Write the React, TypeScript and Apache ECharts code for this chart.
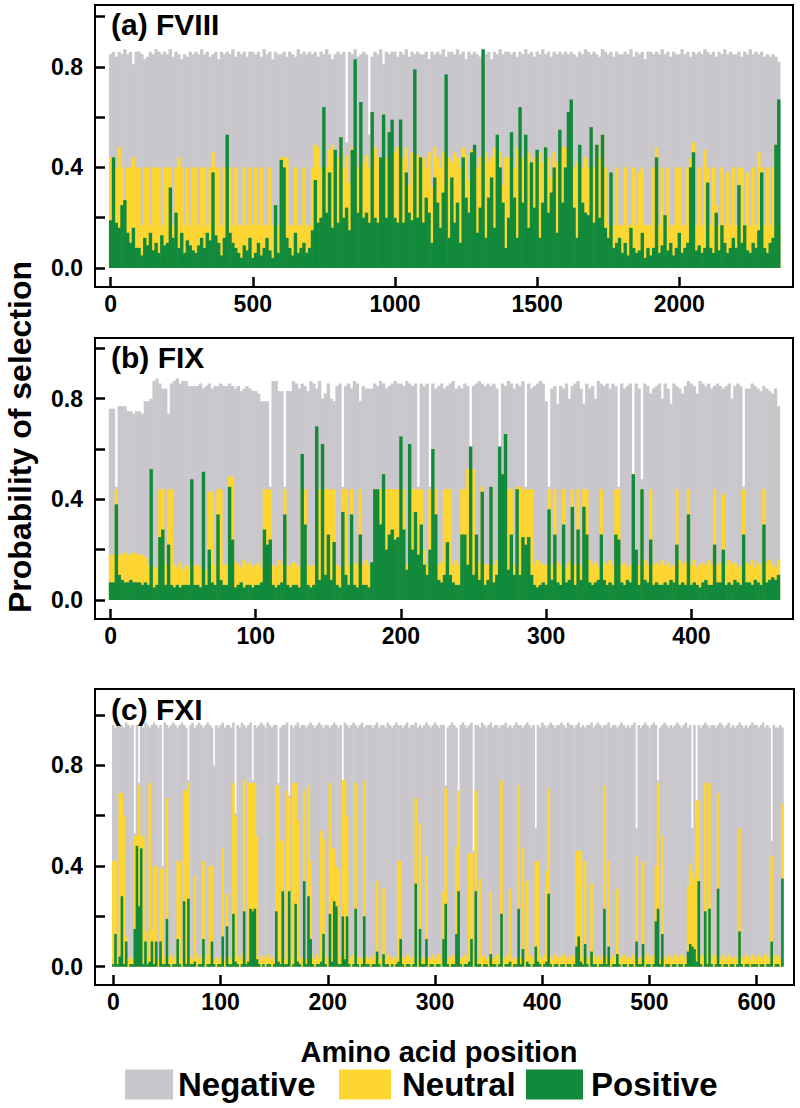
import React, { useEffect, useRef } from "react";
import * as echarts from "echarts";

// ---------- DATA (values in hundredths of probability) ----------
// FVIII: one bar per 10 residues (positions 0,10,...,2350)
const fviiiStep = 10;
const fviiiNeg = [
  85,86,84,86,85,87,85,86,81,86, 86,85,83,84,86,85,87,86,85,86,
  85,87,84,86,85,83,85,84,86,85, 86,85,87,85,86,84,85,86,83,86,
  85,86,85,87,84,86,85,86,84,86, 86,85,86,84,87,85,86,83,86,85,
  85,86,84,86,85,84,87,85,86,85, 86,85,86,84,86,85,87,85,83,85,
  86,85,86,50,86,85,87,84,85,86, 85,53,84,86,85,87,81,86,85,86,
  86,84,86,85,87,84,86,85,86,85, 85,86,83,86,85,86,85,87,84,86,
  86,85,87,85,86,83,86,85,86,85, 84,86,85,86,83,86,85,87,85,86,
  86,85,86,84,86,85,87,85,86,84, 86,85,87,85,86,84,86,85,86,85,
  86,85,86,85,84,86,85,87,86,85, 86,85,84,87,86,85,86,84,86,85,
  85,86,85,87,84,86,85,86,83,86, 86,85,86,85,87,85,86,84,86,85,
  85,87,85,86,84,86,85,86,85,87, 86,85,86,84,86,85,87,85,86,85,
  85,86,84,86,85,87,85,86,85,86, 84,85,84,85,84,82
];
const fviiiNeu = [
  44,40,40,48,40,17,40,40,44,40, 40,17,40,40,17,40,40,40,17,40,
  40,40,17,40,44,40,17,40,17,40, 40,17,40,40,17,40,46,40,40,17,
  40,17,40,17,40,17,17,40,17,40, 17,40,17,40,17,17,40,17,25,17,
  44,44,44,17,17,40,17,17,40,17, 17,40,49,48,40,44,40,47,49,40,
  44,48,40,45,34,48,46,40,44,42, 45,40,47,48,44,36,46,44,40,48,
  46,48,40,44,48,33,46,40,45,44, 44,40,46,32,48,44,40,46,42,44,
  42,46,44,40,48,45,35,47,44,40, 44,40,46,42,44,48,40,46,33,44,
  44,46,40,48,42,44,40,46,42,44, 44,46,42,48,44,36,46,42,44,48,
  48,46,44,40,42,46,40,44,40,42, 40,49,44,53,40,17,38,17,40,17,
  17,40,17,17,40,17,38,40,17,17, 17,40,48,17,40,17,40,17,17,40,
  40,17,17,40,44,50,17,40,17,47, 40,17,40,25,17,40,17,38,17,40,
  17,40,40,17,38,17,40,17,46,40, 17,40,17,40,49,17
];
const fviiiPos = [
  19,44,18,16,25,27,14,10,16,8, 8,5,12,9,14,7,10,6,13,9,
  10,32,12,22,8,14,6,11,9,7, 6,9,12,8,14,11,38,13,10,5,
  12,53,14,10,8,6,4,9,7,12, 4,6,10,5,8,12,7,4,25,6,
  43,40,12,8,5,14,6,8,10,6, 8,15,35,18,20,64,22,38,16,47,
  18,52,20,24,15,47,83,22,66,20, 22,18,62,20,18,44,61,20,54,59,
  20,18,59,18,38,22,19,79,20,44, 18,28,22,10,36,26,16,30,77,12,
  36,18,26,10,44,28,22,46,49,14, 24,87,12,28,36,16,53,40,26,8,
  20,54,28,12,64,26,53,16,42,24, 47,12,26,48,22,30,40,14,55,26,
  40,62,67,24,12,49,26,22,21,56, 18,49,20,53,16,12,38,8,10,12,
  6,10,5,16,8,6,7,14,4,8, 5,8,44,6,9,21,7,10,5,8,
  14,6,8,10,40,46,7,9,6,8, 34,8,6,22,7,17,10,6,8,12,
  8,33,10,17,7,6,10,8,15,38, 8,6,10,12,49,67
];

// FIX: one bar per 2 residues (positions 0,2,...,460)
const fixStep = 2;
const fixNeg = [
  76,76,45,77,77,77,75,75,74,75, 75,74,79,79,80,87,88,86,84,84,
  74,86,87,88,86,87,87,85,85,85, 85,86,84,85,86,84,85,85,86,85,
  85,86,85,84,85,83,84,85,84,83, 83,82,79,79,79,45,87,87,83,83,
  45,83,83,87,86,84,86,85,83,87, 86,84,87,80,82,86,80,79,85,86,
  45,85,86,84,87,86,79,85,84,84, 84,86,85,87,86,84,85,86,87,86,
  86,85,87,86,85,86,45,86,85,86, 45,86,84,85,86,84,85,86,87,84,
  85,84,86,85,46,85,86,87,86,85, 86,85,86,84,50,86,85,87,86,84,
  86,85,87,45,86,84,85,86,87,86, 79,45,84,85,78,85,84,86,80,85,
  86,87,84,78,86,84,85,80,87,86, 85,86,84,86,85,45,86,84,85,86,
  45,86,84,48,86,85,82,84,85,86, 80,86,84,78,86,85,84,82,85,87,
  86,85,82,87,86,85,86,84,85,86, 85,84,85,86,80,85,86,85,45,84,
  84,86,85,84,83,85,84,83,82,84, 77
];
const fixNeu = [
  18,18,44,18,18,19,18,18,19,18, 18,18,17,14,14,13,13,44,44,14,
  44,44,14,13,15,12,14,13,16,14, 14,13,15,12,43,43,14,44,44,14,
  14,49,49,15,14,13,16,14,15,13, 14,15,13,44,44,44,14,13,16,14,
  44,14,13,15,14,13,44,44,14,13, 14,15,44,44,44,44,44,44,14,13,
  44,44,14,44,15,14,44,14,16,14, 14,44,44,44,50,44,44,44,44,44,
  44,44,14,44,44,44,44,44,20,14, 44,44,44,14,15,44,44,44,14,16,
  14,44,44,52,52,52,14,15,45,14, 14,45,14,16,46,46,46,44,44,14,
  45,45,44,44,44,44,14,16,15,14, 14,44,14,44,15,14,44,13,15,44,
  14,44,14,44,44,16,14,15,13,44, 15,14,16,14,44,44,14,15,13,14,
  50,15,14,44,16,14,44,14,15,14, 16,14,15,13,14,44,16,14,15,44,
  14,16,13,14,15,14,16,14,44,14, 15,42,14,16,14,15,13,14,44,15,
  14,16,13,15,14,44,15,16,14,13, 16
];
const fixPos = [
  7,7,38,10,8,7,7,8,7,7, 7,6,7,6,52,5,6,25,28,6,
  22,6,5,6,5,6,6,6,48,6, 6,5,51,6,20,7,6,34,8,6,
  6,45,24,5,6,7,5,6,6,5, 6,6,7,28,22,24,6,5,6,7,
  34,6,5,6,6,5,58,30,6,5, 6,69,8,62,10,26,8,23,6,5,
  35,10,6,34,6,5,26,6,6,5, 15,44,44,30,50,20,26,28,24,25,
  65,28,12,62,20,35,18,30,14,10, 20,60,34,8,7,10,23,10,7,6,
  6,26,26,14,61,10,26,8,43,6, 8,45,7,10,61,50,66,12,26,10,
  44,10,25,22,25,10,6,5,6,7, 6,36,8,26,7,6,30,7,8,37,
  6,28,8,37,26,7,6,7,8,26, 8,6,7,6,26,24,7,6,8,7,
  50,20,6,44,8,7,24,6,7,6, 6,7,6,8,7,22,6,7,6,34,
  6,7,6,5,7,8,6,6,22,7, 7,20,6,7,6,8,7,6,26,7,
  7,6,8,7,6,30,7,8,9,8, 10
];

// FXI: one bar per 2 residues (positions 0,2,...,624)
const fxiStep = 2;
const fxiNeg = [
  96,95,97,96,96,95,97,96,95,96, 53,96,73,96,95,97,96,95,96,97,
  96,95,96,40,97,96,95,96,97,96, 95,96,97,96,95,74,96,97,95,96,
  97,96,95,96,97,96,95,80,96,95, 96,97,95,96,96,95,97,61,96,95,
  97,96,95,96,97,74,96,95,96,97, 96,95,97,96,95,96,96,73,95,96,
  96,97,68,96,95,96,97,95,96,96, 95,96,97,96,95,96,97,96,95,96,
  96,95,96,97,96,95,96,68,97,96, 95,96,97,96,95,96,97,95,96,96,
  96,95,96,97,95,96,96,95,97,96, 95,96,97,96,96,95,96,97,95,96,
  96,97,95,96,95,96,97,96,95,96, 97,96,95,96,96,72,95,96,97,96,
  95,48,96,97,96,95,96,97,46,96, 96,95,97,96,95,96,97,95,96,96,
  95,96,96,97,95,96,95,96,97,96, 96,95,96,97,96,95,96,55,96,95,
  97,96,95,96,97,96,95,96,96,97, 96,95,97,96,96,95,96,97,95,96,
  95,96,96,97,95,96,97,96,95,96, 96,97,95,96,96,95,96,97,96,95,
  96,95,96,97,55,96,95,96,97,96, 95,96,97,96,74,95,96,97,96,95,
  96,95,96,97,96,95,96,97,95,96, 55,96,60,96,95,96,97,96,95,96,
  96,95,96,97,96,95,96,97,95,96, 95,96,97,96,95,96,95,96,97,96,
  96,95,96,97,95,96,95,50,96,95, 95,96,95
];
const fxiNeu = [
  42,42,4,69,69,60,12,3,4,3, 52,52,72,52,52,14,4,73,14,40,
  40,3,39,39,4,67,3,5,3,4, 42,42,3,70,70,73,4,3,36,5,
  3,4,42,3,5,40,40,3,4,2, 4,47,3,29,4,3,73,60,4,3,
  5,74,3,73,73,73,73,52,4,3, 4,3,5,3,4,2,72,72,50,50,
  3,70,67,4,73,73,58,3,4,70, 3,72,42,4,3,5,3,54,51,4,
  3,73,47,47,40,39,4,74,74,60, 3,4,5,73,3,4,3,74,4,3,
  4,3,5,34,3,4,31,3,5,4, 3,4,3,42,42,4,3,5,4,3,
  4,67,3,57,4,3,44,4,3,5, 3,4,5,3,30,71,4,3,5,4,
  48,70,3,4,5,3,45,45,4,70, 3,35,4,5,3,4,30,3,4,5,
  3,74,4,3,5,31,3,4,3,72, 4,47,3,34,5,4,3,42,42,4,
  3,5,38,71,4,3,5,4,3,4, 5,3,4,3,5,4,46,46,46,4,
  42,3,4,33,5,3,4,3,5,72, 4,42,3,5,4,31,3,4,5,3,
  4,3,5,4,44,3,4,42,3,5, 3,4,5,40,73,3,52,4,3,5,
  4,3,5,4,3,5,4,3,32,41, 38,35,66,66,4,5,73,4,73,3,
  5,4,69,3,5,4,3,5,4,3, 4,3,55,4,3,5,4,3,5,4,
  3,5,4,3,5,4,3,44,4,5, 4,3,65
];
const fxiPos = [
  1,13,1,4,28,1,10,0,1,1, 15,48,24,47,1,10,1,2,10,1,
  10,0,10,1,1,19,1,0,1,1, 11,1,0,26,1,27,1,1,2,0,
  1,1,11,0,1,1,10,1,0,1, 1,12,0,16,1,1,21,2,1,0,
  1,22,1,2,23,22,23,3,1,0, 1,0,1,1,0,1,22,2,1,30,
  1,1,30,0,1,25,2,1,0,34, 1,28,11,1,0,1,1,2,13,1,
  0,21,2,26,24,1,1,20,3,20, 1,0,1,23,1,0,1,20,1,1,
  0,1,1,6,1,0,5,1,1,0, 1,0,1,2,11,1,0,1,1,0,
  1,33,0,15,1,1,11,0,1,1, 0,1,1,0,11,25,1,0,1,1,
  13,30,1,0,1,1,2,11,0,30, 1,1,0,1,1,0,5,1,1,0,
  1,21,0,1,1,2,0,1,1,23, 1,7,0,2,1,0,1,8,2,1,
  0,1,2,29,1,0,1,1,0,1, 1,0,1,1,0,1,8,12,2,1,
  9,1,0,6,1,1,0,1,1,23, 1,8,0,1,1,5,1,0,1,1,
  0,1,1,0,10,1,1,9,0,1, 1,0,1,18,23,1,13,0,1,1,
  0,1,1,0,1,1,0,1,6,9, 8,7,2,34,1,0,22,1,23,1,
  0,1,31,1,0,1,1,0,1,1, 0,1,14,1,0,1,1,0,1,1,
  1,0,1,1,0,1,1,10,0,1, 1,0,35
];

const panelTitles = ["(a) FVIII", "(b) FIX", "(c) FXI"];
const xTicksA = [0, 500, 1000, 1500, 2000];
const xTicksB = [0, 100, 200, 300, 400];
const xTicksC = [0, 100, 200, 300, 400, 500, 600];
const yTicks = [0, 0.2, 0.4, 0.6, 0.8, 1.0];
const yLabels = [0, 0.4, 0.8];
const seriesNames = ["Negative", "Neutral", "Positive"];
const colors = ["#c9c7cb", "#fed632", "#118a3b"];

const FONT = "'Liberation Sans', Arial, Helvetica, sans-serif";

export default function App() {
  const ref = useRef<HTMLDivElement>(null);
  useEffect(() => {
    if (!ref.current) return;
    document.body.style.margin = "0";
    const chart = echarts.init(ref.current, undefined, { renderer: "svg" });

    const panels = [
      { neg: fviiiNeg, neu: fviiiNeu, pos: fviiiPos, step: fviiiStep,
        grid: { left: 95, top: 5, width: 698, height: 282 },
        xMin: -55, xMax: 2400, yMin: -0.0755, yMax: 1.0457, xTicks: xTicksA, barW: 3.4 },
      { neg: fixNeg, neu: fixNeu, pos: fixPos, step: fixStep,
        grid: { left: 95, top: 338, width: 698, height: 281 },
        xMin: -10.7, xMax: 470, yMin: -0.0755, yMax: 1.041, xTicks: xTicksB, barW: 3.4 },
      { neg: fxiNeg, neu: fxiNeu, pos: fxiPos, step: fxiStep,
        grid: { left: 95, top: 689, width: 699, height: 296 },
        xMin: -17.1, xMax: 634.8, yMin: -0.0727, yMax: 1.103, xTicks: xTicksC, barW: 2.6 },
    ];

    const tickStyle = { color: "#000", width: 2.5 };
    const labelStyle = { color: "#000", fontSize: 23, fontWeight: "bold" as const, fontFamily: FONT };

    const grid = panels.map((p) => ({
      ...p.grid, show: true, borderColor: "#000", borderWidth: 2, backgroundColor: "transparent",
    }));
    const xAxis = panels.map((p, i) => ({
      type: "value", gridIndex: i, min: p.xMin, max: p.xMax, position: "bottom",
      axisLine: { show: true, onZero: false, lineStyle: { color: "#000", width: 2 } },
      splitLine: { show: false },
      axisTick: { show: true, inside: true, length: 10, lineStyle: tickStyle, customValues: p.xTicks },
      axisLabel: { ...labelStyle, margin: 5, customValues: p.xTicks, formatter: (v: number) => String(v) },
    }));
    const yAxis = panels.map((p, i) => ({
      type: "value", gridIndex: i, min: p.yMin, max: p.yMax, position: "left",
      axisLine: { show: true, onZero: false, lineStyle: { color: "#000", width: 2 } },
      splitLine: { show: false },
      axisTick: { show: true, inside: true, length: 10, lineStyle: tickStyle, customValues: yTicks },
      axisLabel: { ...labelStyle, margin: 12, customValues: yLabels, formatter: (v: number) => v.toFixed(1) },
    }));

    const series: any[] = [];
    panels.forEach((p, i) => {
      [p.neg, p.neu, p.pos].forEach((arr, k) => {
        series.push({
          name: seriesNames[k], type: "bar", xAxisIndex: i, yAxisIndex: i,
          barWidth: p.barW, barGap: "-100%", silent: true, z: 1,
          itemStyle: { color: colors[k] },
          data: arr.map((v, j) => [j * p.step, v / 100]),
        });
      });
    });

    const titleTops = [9, 342, 694];
    const title = panelTitles.map((t, i) => ({
      text: t, left: 111, top: titleTops[i], padding: 0,
      textStyle: { color: "#000", fontSize: 30, fontWeight: "bold", fontFamily: FONT },
    }));

    const legendCfg = [
      { left: 125, w: 48, pad: 0 },
      { left: 339, w: 52, pad: 6 },
      { left: 526, w: 57, pad: 3 },
    ];
    const legend = seriesNames.map((n, i) => ({
      data: [n], left: legendCfg[i].left, top: 1068, padding: 0,
      itemWidth: legendCfg[i].w, itemHeight: 30,
      icon: "rect", selectedMode: false, itemGap: 0,
      textStyle: { color: "#000", fontSize: 33, fontWeight: "bold", fontFamily: FONT,
        padding: [0, 0, 0, legendCfg[i].pad] },
    }));

    chart.setOption({
      animation: false,
      backgroundColor: "#fff",
      title, legend, grid, xAxis, yAxis, series,
      graphic: [
        { type: "text", x: 20, y: 437, rotation: Math.PI / 2,
          style: { text: "Probability of selection", fill: "#000", font: `bold 32px ${FONT}`,
            textAlign: "center", textVerticalAlign: "middle" } },
        { type: "text", x: 439, y: 1052,
          style: { text: "Amino acid position", fill: "#000", font: `bold 29px ${FONT}`,
            textAlign: "center", textVerticalAlign: "middle" } },
      ],
    });
    return () => chart.dispose();
  }, []);
  return (
    <div ref={ref} style={{ position: "absolute", left: 0, top: 0, width: 800, height: 1108, background: "#fff" }} />
  );
}
